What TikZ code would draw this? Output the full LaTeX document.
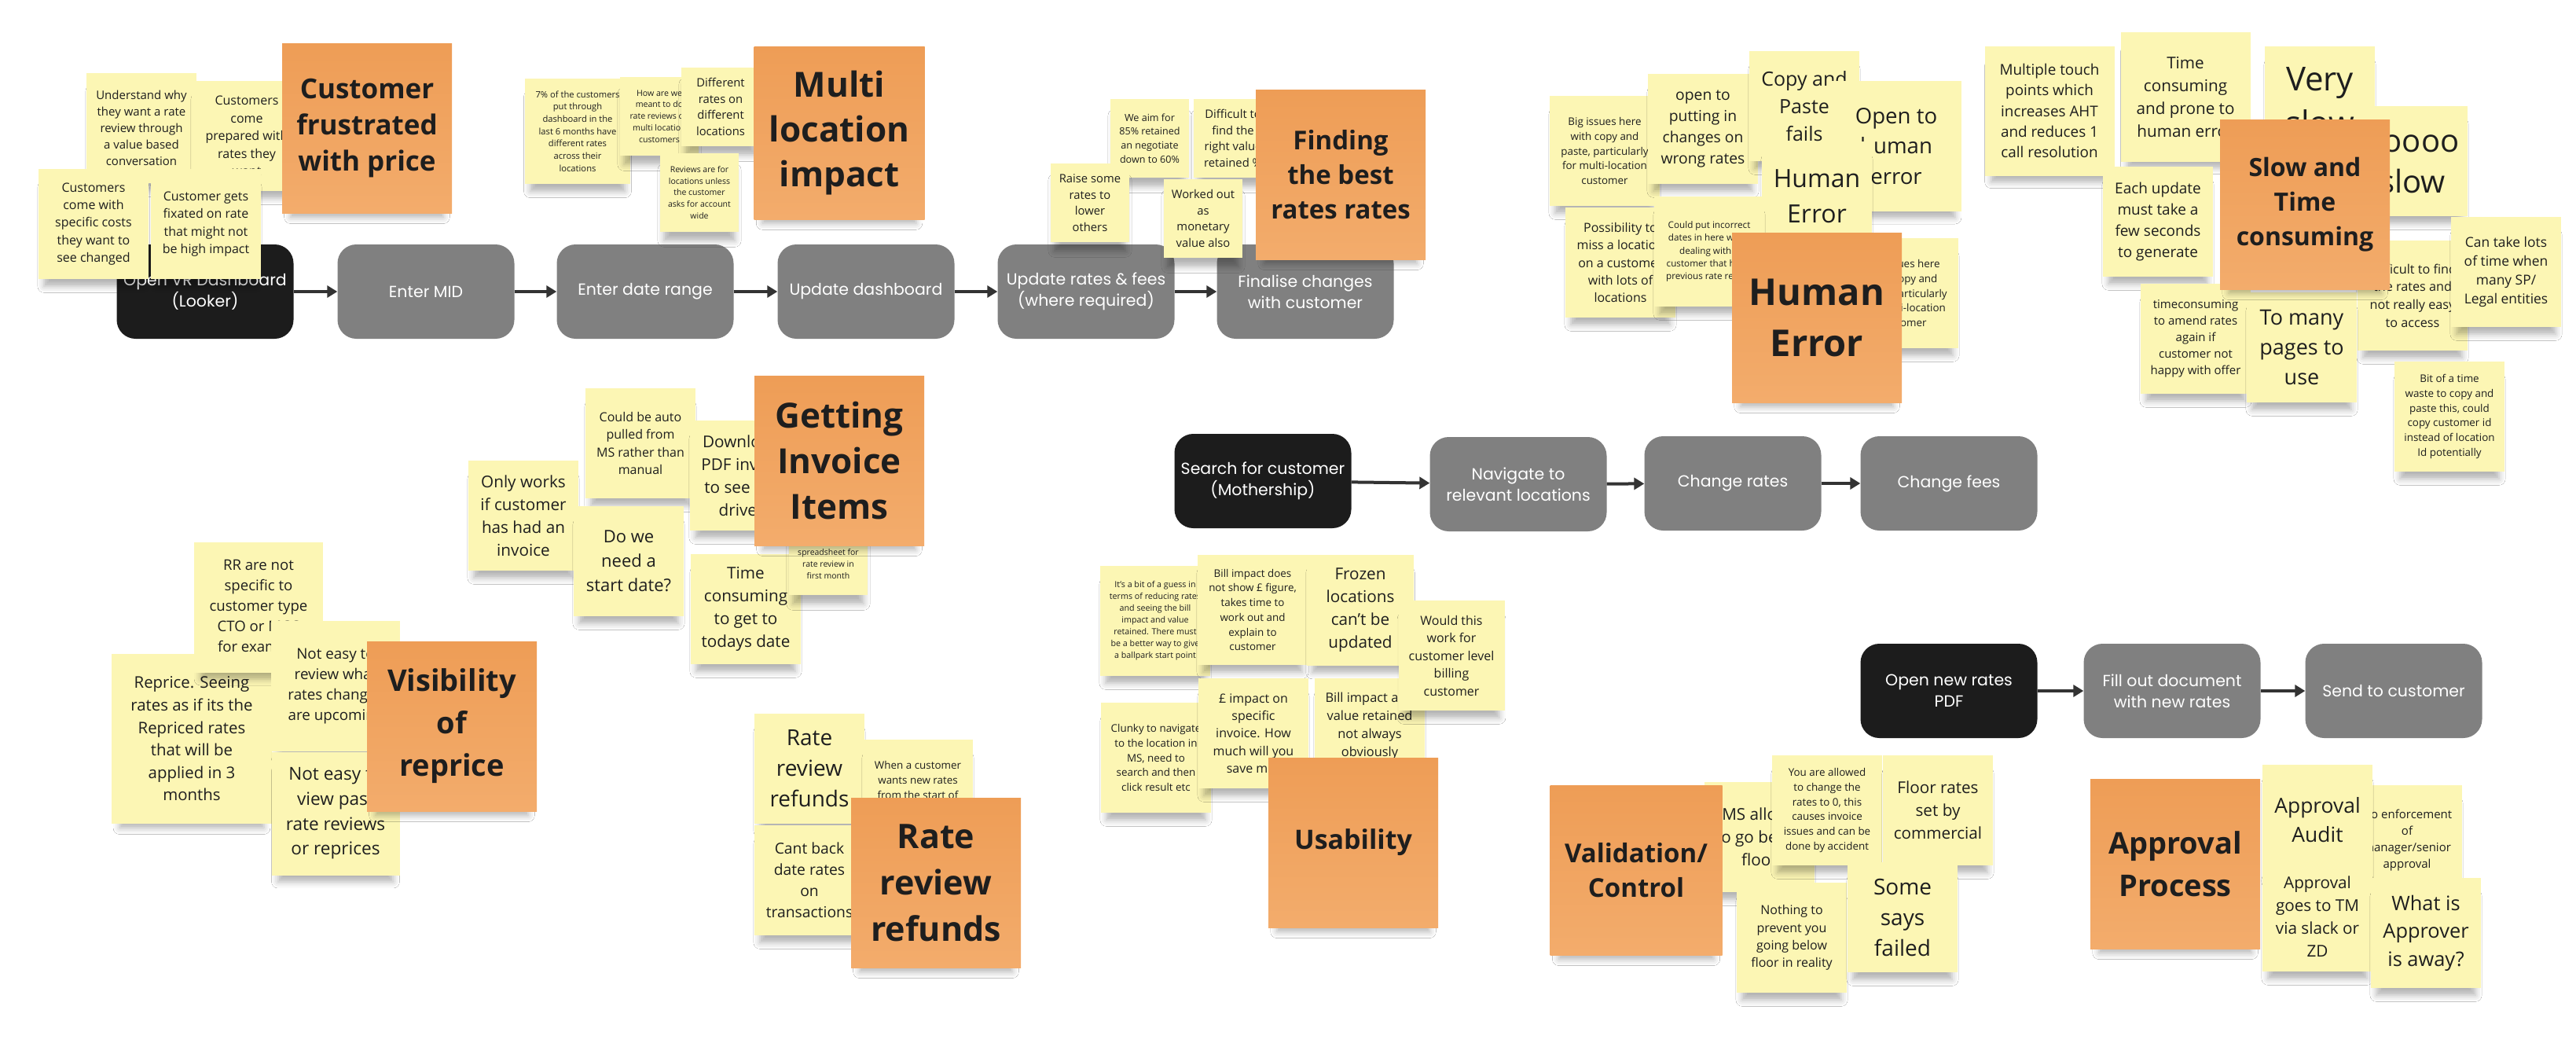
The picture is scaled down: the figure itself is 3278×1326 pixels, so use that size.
\documentclass[tikz,border=0pt]{standalone}
\usepackage{fontspec}
\setmainfont{Open Sans}
\newfontfamily\popfont{Poppins}
\usetikzlibrary{arrows.meta,shadows.blur}
\definecolor{noteyellow}{HTML}{FCF6B4}
\definecolor{themetop}{HTML}{EE9D56}
\definecolor{themebot}{HTML}{F3AC6C}
\definecolor{boxgray}{HTML}{808080}
\definecolor{boxblack}{HTML}{1C1C1C}
\definecolor{flowgray}{HTML}{333333}
\definecolor{ink}{HTML}{1E1E1E}
\newcommand\fs[2]{\fontsize{#1}{#2}\selectfont}
\tikzset{
  sticky/.style={fill=noteyellow, text=ink, align=center, inner sep=0pt,
    minimum width=140, minimum height=140,
    blur shadow={shadow xshift=0pt, shadow yshift=-18pt, shadow scale=0.9,
      shadow blur radius=9pt, shadow opacity=30}},
  notesize/.style 2 args={minimum width=#1, minimum height=#2},
  theme/.style={sticky, top color=themetop, bottom color=themebot,
    minimum width=216, minimum height=216},
  stepbox/.style={rounded corners=24pt, fill=boxgray, text=white, align=center,
    minimum width=225, minimum height=120, inner sep=0pt, font=\popfont\fs{20.5}{27}},
  startbox/.style={stepbox, fill=boxblack},
  flow/.style={draw=flowgray, line width=4pt, -{Triangle[length=13pt,width=15pt]}}
}
\begin{document}
\begin{tikzpicture}[x=1pt,y=-1pt]
\fill[white] (0,0) rectangle (3278,1326);
\useasboundingbox (0,0) rectangle (3278,1326);

\node[startbox] (s1) at (261,371) {Open VR Dashboard\\(Looker)};
\node[stepbox] (s2) at (542,371) {Enter MID};
\node[stepbox] (s3) at (821,371) {Enter date range};
\node[stepbox] (s4) at (1102,371) {Update dashboard};
\node[stepbox] (s5) at (1382,371) {Update rates \& fees\\(where required)};
\node[stepbox] (s6) at (1661,371) {Finalise changes\\with customer};
\foreach \a/\b in {s1/s2,s2/s3,s3/s4,s4/s5,s5/s6}
  \draw[flow] (\a) -- (\b);

\node[startbox] (m1) at (1607,612) {Search for customer\\(Mothership)};
\node[stepbox] (m2) at (1932,616) {Navigate to\\relevant locations};
\node[stepbox] (m3) at (2205,615) {Change rates};
\node[stepbox] (m4) at (2480,615) {Change fees};
\foreach \a/\b in {m1/m2,m2/m3,m3/m4}
  \draw[flow] (\a) -- (\b);

\node[startbox] (b1) at (2480,879) {Open new rates\\PDF};
\node[stepbox] (b2) at (2764,879) {Fill out document\\with new rates};
\node[stepbox] (b3) at (3046,879) {Send to customer};
\draw[flow] (b1) -- (b2);
\draw[flow] (b2) -- (b3);

% customer frustrated with price
\node[sticky, font=\fs{15}{21}] (p1) at (180,163) {Understand why\\they want a rate\\review through\\a value based\\conversation};
\node[sticky, font=\fs{16}{22.5}] (p2) at (314,173) {Customers\\come\\prepared with\\rates they\\want};
\node[sticky, font=\fs{16}{22.3}] (p3) at (119,285) {Customers\\come with\\specific costs\\they want to\\see changed};
\node[sticky, font=\fs{16}{22.3}] (p4) at (262,285) {Customer gets\\fixated on rate\\that might not\\be high impact};
\node[theme, font=\bfseries\fs{35}{46}] (tPrice) at (467,163) {Customer\\frustrated\\with price};

% multi location
\node[sticky, notesize={134}{134}, font=\fs{11.2}{15.7}] (l1) at (735,167) {7\% of the customers\\put through\\dashboard in the\\last 6 months have\\different rates\\across their\\locations};
\node[sticky, notesize={100}{100}, font=\fs{10.6}{14.8}] (l2) at (839,148) {How are we\\meant to do\\rate reviews on\\multi location\\customers};
\node[sticky, notesize={100}{100}, font=\fs{14.8}{20.7}] (l3) at (917,136) {Different\\rates on\\different\\locations};
\node[sticky, notesize={100}{100}, font=\fs{10.5}{14.7}] (l4) at (890,245) {Reviews are for\\locations unless\\the customer\\asks for account\\wide};
\node[theme, notesize={217}{220}, font=\bfseries\fs{44}{57}] (tMulti) at (1068,169) {Multi\\location\\impact};

% finding the best rates
\node[sticky, notesize={100}{100}, font=\fs{12.6}{17.7}] (f1) at (1463,176) {We aim for\\85\% retained\\an negotiate\\down to 60\%};
\node[sticky, notesize={100}{100}, font=\fs{14.8}{20.7}] (f2) at (1569,176) {Difficult to\\find the\\right value\\retained \%};
\node[sticky, notesize={100}{100}, font=\fs{14.8}{20.7}] (f3) at (1387,258) {Raise some\\rates to\\lower\\others};
\node[sticky, notesize={100}{100}, font=\fs{14.8}{20.7}] (f4) at (1531,278) {Worked out\\as\\monetary\\value also};
\node[theme, font=\bfseries\fs{33}{44}] (tFind) at (1706,222) {Finding\\the best\\rates rates};

% human error
\node[sticky, font=\fs{13.4}{18.7}] (h1) at (2042,192) {Big issues here\\with copy and\\paste, particularly\\for multi-location\\customer};
\node[sticky, font=\fs{19.3}{27}] (h2) at (2167,164) {open to\\putting in\\changes on\\wrong rates};
\node[sticky, font=\fs{25}{35}] (h3) at (2296,135) {Copy and\\Paste\\fails};
\node[sticky, notesize={166}{166}, font=\fs{27.6}{38.7}] (h4) at (2413,186) {Open to\\human\\error};
\node[sticky, font=\fs{32}{45}] (h5) at (2312,250) {Human\\Error};
\node[sticky, font=\fs{16}{22.3}] (h6) at (2062,334) {Possibility to\\miss a location\\on a customer\\with lots of\\locations};
\node[sticky, font=\fs{11.7}{16.3}] (h7) at (2175,320) {Could put incorrect\\dates in here when\\dealing with a\\customer that has a\\previous rate review};
\node[sticky, font=\fs{13.4}{18.7}] (h8) at (2422,373) {Big issues here\\with copy and\\paste, particularly\\for multi-location\\customer};
\node[theme, font=\bfseries\fs{47}{65}] (tHuman) at (2312,404) {Human\\Error};

% slow and time consuming
\node[sticky, notesize={165}{165}, font=\fs{18.9}{26.4}] (w1) at (2608,141) {Multiple touch\\points which\\increases AHT\\and reduces 1\\call resolution};
\node[sticky, notesize={165}{165}, font=\fs{20.7}{29}] (w2) at (2781,123) {Time\\consuming\\and prone to\\human error};
\node[sticky, font=\fs{42}{56}] (w3) at (2952,129) {Very\\slow};
\node[sticky, font=\fs{40}{52}] (w4) at (3070,205) {Soooo\\slow};
\node[sticky, font=\fs{19}{26.8}] (w5) at (2746,282) {Each update\\must take a\\few seconds\\to generate};
\node[sticky, font=\fs{16.2}{22.7}] (w6) at (3070,376) {Difficult to find\\the rates and\\not really easy\\to access};
\node[sticky, font=\fs{17.4}{24.3}] (w7) at (3189,346) {Can take lots\\of time when\\many SP/\\Legal entities};
\node[sticky, font=\fs{15}{21}] (w8) at (2794,431) {timeconsuming\\to amend rates\\again if\\customer not\\happy with offer};
\node[sticky, font=\fs{27}{38}] (w9) at (2929,442) {To many\\pages to\\use};
\node[sticky, font=\fs{13.4}{18.7}] (w10) at (3117,530) {Bit of a time\\waste to copy and\\paste this, could\\copy customer id\\instead of location\\Id potentially};
\node[theme, font=\bfseries\fs{32}{44}] (tSlow) at (2933,260) {Slow and\\Time\\consuming};

% getting invoice items
\node[sticky, font=\fs{20.7}{29}] (i1) at (666,656) {Only works\\if customer\\has had an\\invoice};
\node[sticky, font=\fs{16}{22.3}] (i2) at (815,564) {Could be auto\\pulled from\\MS rather than\\manual};
\node[sticky, font=\fs{22}{31}] (i3) at (800,714) {Do we\\need a\\start date?};
\node[sticky, font=\fs{20.7}{29}] (i4) at (948,605) {Downloads\\PDF invoice\\to see cost\\drivers};
\node[sticky, font=\fs{20.7}{29}] (i6) at (949,775) {Time\\consuming\\to get to\\todays date};
\node[sticky, notesize={100}{100}, font=\fs{10.5}{14.7}] (i5) at (1054,707) {~\\(SCART)\\spreadsheet for\\rate review in\\first month};
\node[theme, font=\bfseries\fs{44}{58}] (tInvoice) at (1068,586) {Getting\\Invoice\\Items};

% visibility of reprice
\node[sticky, notesize={204}{216}, font=\fs{20.4}{28.6}] (r1) at (244,940) {Reprice. Seeing\\rates as if its the\\Repriced rates\\that will be\\applied in 3\\months};
\node[sticky, notesize={164}{166}, font=\fs{18.6}{26}] (r2) at (329,773) {RR are not\\specific to\\customer type\\CTO or MCC\\for example};
\node[sticky, notesize={164}{166}, font=\fs{18.8}{26.3}] (r3) at (427,873) {Not easy to\\review what\\rates changes\\are upcoming};
\node[sticky, notesize={163}{157}, font=\fs{22.6}{31.7}] (r4) at (427,1035) {Not easy to\\view past\\rate reviews\\or reprices};
\node[theme, font=\bfseries\fs{38}{54}] (tReprice) at (575,924) {Visibility\\of\\reprice};

% rate review refunds
\node[sticky, font=\fs{28}{39}] (rr1) at (1030,978) {Rate\\review\\refunds};
\node[sticky, font=\fs{13.4}{18.7}] (rr2) at (1168,1011) {When a customer\\wants new rates\\from the start of\\the month we\\need to refund};
\node[sticky, font=\fs{19.3}{27}] (rr3) at (1030,1120) {Cant back\\date rates\\on\\transactions};
\node[theme, font=\bfseries\fs{43}{59}] (tRefund) at (1191,1123) {Rate\\review\\refunds};

% usability
\node[sticky, font=\fs{10.7}{15}] (u1) at (1470,790) {It's a bit of a guess in\\terms of reducing rates\\and seeing the bill\\impact and value\\retained. There must\\be a better way to give\\a ballpark start point};
\node[sticky, font=\fs{13.4}{18.7}] (u2) at (1594,776) {Bill impact does\\not show £ figure,\\takes time to\\work out and\\explain to\\customer};
\node[sticky, notesize={136}{141}, font=\fs{20.7}{29}] (u3) at (1731,776) {Frozen\\locations\\can't be\\updated};
\node[sticky, font=\fs{13.4}{18.7}] (u5) at (1471,964) {Clunky to navigate\\to the location in\\MS, need to\\search and then\\click result etc};
\node[sticky, font=\fs{16}{22.3}] (u6) at (1595,933) {£ impact on\\specific\\invoice. How\\much will you\\save me?};
\node[sticky, font=\fs{16.4}{23}] (u7) at (1743,933) {Bill impact and\\value retained\\not always\\obviously\\linked};
\node[sticky, notesize={135}{140}, font=\fs{16}{22.5}] (u4) at (1847,834) {Would this\\work for\\customer level\\billing\\customer};
\node[theme, font=\bfseries\fs{34}{46}] (tUsab) at (1722,1072) {Usability};

% validation / control
\node[sticky, font=\fs{20.7}{29}] (v1) at (2239,1065) {MS allows\\to go below\\floor};
\node[sticky, font=\fs{13.4}{18.7}] (v2) at (2325,1031) {You are allowed\\to change the\\rates to 0, this\\causes invoice\\issues and can be\\done by accident};
\node[sticky, font=\fs{20.7}{29}] (v3) at (2466,1031) {Floor rates\\set by\\commercial};
\node[sticky, font=\fs{16}{22.3}] (v4) at (2280,1193) {Nothing to\\prevent you\\going below\\floor in reality};
\node[sticky, font=\fs{28}{39}] (v5) at (2421,1167) {Some\\says\\failed};
\node[theme, notesize={219}{216}, font=\bfseries\fs{33}{44}] (tValid) at (2082,1107) {Validation/\\Control};

% approval process
\node[sticky, font=\fs{15}{21}] (a1) at (3063,1069) {No enforcement\\of\\manager/senior\\approval};
\node[sticky, font=\fs{26.4}{37}] (a2) at (2949,1043) {Approval\\Audit};
\node[sticky, font=\fs{20.7}{29}] (a3) at (2949,1166) {Approval\\goes to TM\\via slack or\\ZD};
\node[sticky, font=\fs{25.4}{35.5}] (a4) at (3087,1187) {What is\\Approver\\is away?};
\node[theme, font=\bfseries\fs{38}{54}] (tApprove) at (2768,1099) {Approval\\Process};
\end{tikzpicture}
\end{document}
